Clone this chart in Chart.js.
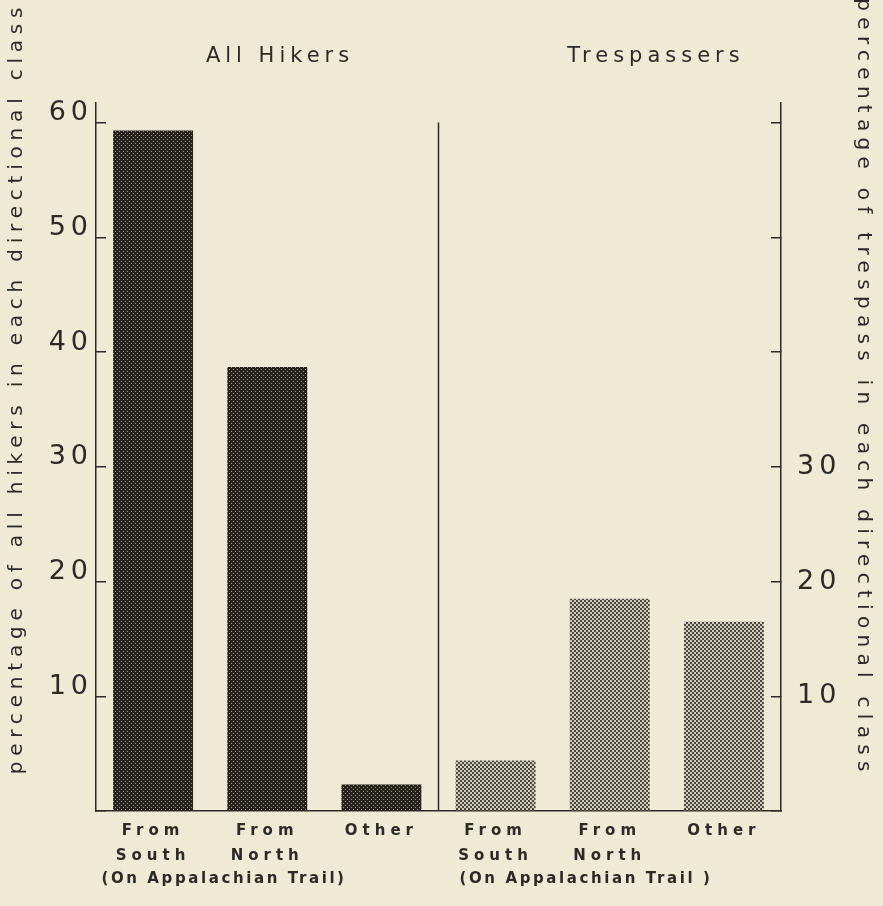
<!DOCTYPE html>
<html>
<head>
<meta charset="utf-8">
<script src="https://cdn.jsdelivr.net/npm/chart.js@4.4.1/dist/chart.umd.min.js"></script>
<style>
  html, body { margin: 0; padding: 0; background: #eeead6; }
  canvas { display: block; }
</style>
</head>
<body>
<canvas id="chart" width="883" height="906"></canvas>
<script>
// data
const categories = [["From", "South"], ["From", "North"], ["Other"], ["From", "South"], ["From", "North"], ["Other"]];
const hikersPct = [59.3, 38.7, 2.3, null, null, null];
const trespassPct = [null, null, null, 4.4, 18.5, 16.5];
const leftTickValues = [10, 20, 30, 40, 50, 60];
const rightTickValues = [10, 20, 30];
const panelTitles = ["All Hikers", "Trespassers"];
const groupLabels = ["(On Appalachian Trail)", "(On Appalachian Trail )"];
const leftTitle = "percentage of all hikers in each directional class";
const rightTitle = "percentage of trespass in each directional class";

const ink = "#2d2a26";
const family = "'DejaVu Sans', 'Liberation Sans', sans-serif";

function makePattern(kind) {
  const c = document.createElement("canvas");
  c.width = 4;
  c.height = 4;
  const g = c.getContext("2d");
  if (kind === "dark") {
    g.fillStyle = "#25211d";
    g.fillRect(0, 0, 4, 4);
    g.fillStyle = "#9d988b";
    g.fillRect(1, 1, 1, 1);
    g.fillRect(3, 3, 1, 1);
  } else {
    g.fillStyle = "#d2cebe";
    g.fillRect(0, 0, 4, 4);
    g.fillStyle = "#4a4640";
    g.fillRect(0, 0, 2, 2);
    g.fillRect(2, 2, 2, 2);
  }
  return g.createPattern(c, "repeat");
}

const decorations = {
  id: "decorations",
  beforeUpdate(chart) { chart.ctx.letterSpacing = "5px"; },
  beforeDraw(chart) { chart.ctx.letterSpacing = "5px"; },
  afterDraw(chart) {
    const { ctx, chartArea, scales } = chart;
    const x = scales.x, y = scales.y;
    ctx.save();
    ctx.fillStyle = ink;
    ctx.strokeStyle = ink;

    // divider between the two panels
    const mid = (x.getPixelForValue(2) + x.getPixelForValue(3)) / 2;
    ctx.lineWidth = 1.5;
    ctx.beginPath();
    ctx.moveTo(mid, y.getPixelForValue(60));
    ctx.lineTo(mid, chartArea.bottom);
    ctx.stroke();

    ctx.textAlign = "center";
    ctx.textBaseline = "middle";

    // panel headings
    ctx.letterSpacing = "5px";
    ctx.font = "21px " + family;
    ctx.fillText(panelTitles[0], 280, 57);
    ctx.fillText(panelTitles[1], 656, 57);

    // group labels under the categories
    ctx.font = "bold 15px " + family;
    ctx.letterSpacing = "2.6px";
    ctx.fillText(groupLabels[0], 224, 879);
    ctx.fillText(groupLabels[1], 586, 879);

    // axis titles
    ctx.font = "20px " + family;
    ctx.letterSpacing = "5.8px";
    ctx.save();
    ctx.translate(17, 388);
    ctx.rotate(-Math.PI / 2);
    ctx.fillText(leftTitle, 0, 0);
    ctx.restore();
    ctx.save();
    ctx.translate(863, 388);
    ctx.rotate(Math.PI / 2);
    ctx.letterSpacing = "6.3px";
    ctx.fillText(rightTitle, 0, 0);
    ctx.restore();

    ctx.restore();
  }
};

const ctx = document.getElementById("chart").getContext("2d");

new Chart(ctx, {
  type: "bar",
  data: {
    labels: categories,
    datasets: [
      {
        label: "All Hikers",
        data: hikersPct,
        yAxisID: "y",
        backgroundColor: makePattern("dark"),
        grouped: false,
        barPercentage: 0.7,
        categoryPercentage: 1
      },
      {
        label: "Trespassers",
        data: trespassPct,
        yAxisID: "y2",
        backgroundColor: makePattern("light"),
        grouped: false,
        barPercentage: 0.7,
        categoryPercentage: 1
      }
    ]
  },
  options: {
    responsive: false,
    animation: false,
    devicePixelRatio: 1,
    layout: { padding: { top: 103, left: 0, right: 0, bottom: 0 } },
    plugins: {
      legend: { display: false },
      tooltip: { enabled: false },
      title: { display: false }
    },
    scales: {
      x: {
        grid: { display: false },
        border: { display: true, color: ink, width: 1.5 },
        ticks: {
          color: ink,
          font: { family: family, size: 15, weight: "bold", lineHeight: 1.65 },
          padding: 0,
          autoSkip: false,
          maxRotation: 0
        },
        afterFit(scale) { scale.height = 95; }
      },
      y: {
        position: "left",
        min: 0,
        max: 61.7,
        grid: { drawOnChartArea: false, tickLength: -10, color: ink, lineWidth: 1.5 },
        border: { color: ink, width: 1.5 },
        ticks: {
          stepSize: 10,
          includeBounds: false,
          padding: 13,
          color: ink,
          font: { family: family, size: 27, lineHeight: 0.7 },
          callback: v => leftTickValues.includes(v) ? [String(v), ""] : ""
        },
        afterFit(scale) { scale.width = 96; }
      },
      y2: {
        position: "right",
        min: 0,
        max: 61.7,
        grid: { drawOnChartArea: false, tickLength: -10, color: ink, lineWidth: 1.5 },
        border: { color: ink, width: 1.5 },
        ticks: {
          stepSize: 10,
          includeBounds: false,
          padding: 26,
          color: ink,
          font: { family: family, size: 27 },
          callback: v => rightTickValues.includes(v) ? String(v) : ""
        },
        afterFit(scale) { scale.width = 102; }
      }
    }
  },
  plugins: [decorations]
});
</script>
</body>
</html>
